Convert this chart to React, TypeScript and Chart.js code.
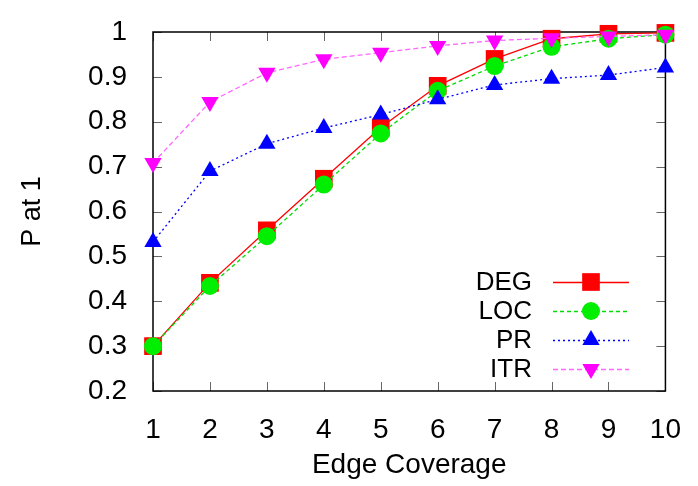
import React, { useEffect, useRef } from "react";
import { Chart, registerables } from "chart.js";

Chart.register(...registerables);

const coverage = [1, 2, 3, 4, 5, 6, 7, 8, 9, 10];
const degValues = [0.3, 0.441, 0.558, 0.673, 0.787, 0.88, 0.94, 0.985, 0.996, 0.998];
const locValues = [0.3, 0.434, 0.545, 0.66, 0.774, 0.869, 0.924, 0.967, 0.985, 0.994];
const prValues = [0.532, 0.69, 0.751, 0.786, 0.816, 0.85, 0.882, 0.896, 0.904, 0.921];
const itrValues = [0.708, 0.844, 0.909, 0.939, 0.954, 0.969, 0.981, 0.986, 0.99, 0.994];
const seriesNames = ["DEG", "LOC", "PR", "ITR"];
const xTitle = "Edge Coverage";
const yTitle = "P at 1";

const FONT = "'Liberation Sans', Arial, Helvetica, sans-serif";

type Marker = { style: string; radius: number; rotation: number };

function drawMarker(ctx: CanvasRenderingContext2D, m: Marker, x: number, y: number, color: string) {
  ctx.save();
  ctx.fillStyle = color;
  ctx.beginPath();
  if (m.style === "rect") {
    const s = Math.SQRT1_2 * m.radius;
    ctx.rect(x - s, y - s, 2 * s, 2 * s);
  } else if (m.style === "circle") {
    ctx.arc(x, y, m.radius, 0, Math.PI * 2);
  } else {
    const rad = (m.rotation * Math.PI) / 180;
    for (let i = 0; i < 3; i++) {
      const a = rad + (i * 2 * Math.PI) / 3;
      const px = x + Math.sin(a) * m.radius;
      const py = y - Math.cos(a) * m.radius;
      if (i === 0) ctx.moveTo(px, py);
      else ctx.lineTo(px, py);
    }
    ctx.closePath();
  }
  ctx.fill();
  ctx.restore();
}

const framePlugin = {
  id: "gnuFrame",
  beforeDatasetsDraw(chart: any) {
    const { ctx, chartArea } = chart;
    const { left, right, top, bottom } = chartArea;
    const xs = chart.scales.x;
    const ys = chart.scales.y;
    const tl = 9;
    ctx.save();
    ctx.strokeStyle = "#666";
    ctx.lineWidth = 1;
    ctx.beginPath();
    xs.ticks.forEach((t: any) => {
      const px = Math.round(xs.getPixelForValue(t.value)) + 0.5;
      ctx.moveTo(px, bottom);
      ctx.lineTo(px, bottom - tl);
      ctx.moveTo(px, top);
      ctx.lineTo(px, top + tl);
    });
    ys.ticks.forEach((t: any) => {
      const py = Math.round(ys.getPixelForValue(t.value)) + 0.5;
      ctx.moveTo(left, py);
      ctx.lineTo(left + tl, py);
      ctx.moveTo(right, py);
      ctx.lineTo(right - tl, py);
    });
    ctx.stroke();
    ctx.strokeStyle = "#000";
    ctx.lineWidth = 1.5;
    ctx.strokeRect(left, top, right - left, bottom - top);
    ctx.restore();
  },
};

const legendPlugin = {
  id: "gnuLegend",
  afterDatasetsDraw(chart: any) {
    const { ctx } = chart;
    const textRight = 532;
    const lineStart = 553;
    const lineEnd = 629;
    const markX = 591;
    const rows = [282, 311, 340, 369];
    ctx.save();
    chart.data.datasets.forEach((ds: any, i: number) => {
      const y = rows[i];
      ctx.fillStyle = "#000";
      ctx.font = `26px ${FONT}`;
      ctx.textAlign = "right";
      ctx.textBaseline = "middle";
      ctx.fillText(ds.label, textRight, y + 1);
      ctx.strokeStyle = ds.borderColor;
      ctx.lineWidth = ds.borderWidth;
      ctx.setLineDash(ds.borderDash || []);
      ctx.beginPath();
      ctx.moveTo(lineStart, y + 0.5);
      ctx.lineTo(lineEnd, y + 0.5);
      ctx.stroke();
      ctx.setLineDash([]);
      drawMarker(
        ctx,
        { style: ds.pointStyle, radius: ds.pointRadius, rotation: ds.pointRotation || 0 },
        markX,
        y,
        ds.pointBackgroundColor
      );
    });
    ctx.restore();
  },
};

export default function App() {
  const ref = useRef<HTMLCanvasElement | null>(null);

  useEffect(() => {
    document.body.style.margin = "0";
    const canvas = ref.current;
    if (!canvas) return;
    const mk = (values: number[]) => values.map((v, i) => ({ x: coverage[i], y: v }));
    const chart = new Chart(canvas, {
      type: "line",
      data: {
        datasets: [
          {
            label: seriesNames[0],
            data: mk(degValues),
            borderColor: "#ff0000",
            backgroundColor: "#ff0000",
            pointBackgroundColor: "#ff0000",
            pointBorderColor: "#ff0000",
            borderWidth: 1.3,
            pointStyle: "rect",
            pointRadius: 12.5,
            pointBorderWidth: 0,
            order: 4,
            clip: false,
          },
          {
            label: seriesNames[1],
            data: mk(locValues),
            borderColor: "#00dd00",
            backgroundColor: "#00ee00",
            pointBackgroundColor: "#00ee00",
            pointBorderColor: "#00ee00",
            borderWidth: 1.3,
            borderDash: [4, 3],
            pointStyle: "circle",
            pointRadius: 9,
            pointBorderWidth: 0,
            order: 3,
            clip: false,
          },
          {
            label: seriesNames[2],
            data: mk(prValues),
            borderColor: "#0000ff",
            backgroundColor: "#0000ff",
            pointBackgroundColor: "#0000ff",
            pointBorderColor: "#0000ff",
            borderWidth: 1.3,
            borderDash: [2, 3],
            pointStyle: "triangle",
            pointRadius: 10,
            pointBorderWidth: 0,
            order: 2,
            clip: false,
          },
          {
            label: seriesNames[3],
            data: mk(itrValues),
            borderColor: "#ff66ff",
            backgroundColor: "#ff00ff",
            pointBackgroundColor: "#ff00ff",
            pointBorderColor: "#ff00ff",
            borderWidth: 1.3,
            borderDash: [5, 3],
            pointStyle: "triangle",
            pointRotation: 180,
            pointRadius: 10,
            pointBorderWidth: 0,
            order: 1,
            clip: false,
          },
        ] as any,
      },
      options: {
        responsive: false,
        animation: false,
        layout: { padding: { left: 0, right: 30, top: 16, bottom: 0 } },
        plugins: {
          legend: { display: false },
          tooltip: { enabled: false },
        },
        scales: {
          x: {
            type: "linear",
            min: 1,
            max: 10,
            grid: { display: false },
            border: { display: false },
            ticks: {
              stepSize: 1,
              padding: 17,
              color: "#000",
              font: { family: FONT, size: 28, lineHeight: 1 },
              callback: (v: any) => String(Number(Number(v).toFixed(1))),
            },
            title: {
              display: true,
              text: xTitle,
              color: "#000",
              font: { family: FONT, size: 28 },
              padding: { top: 0, bottom: 4 },
            },
            afterFit: (s: any) => {
              s.height = 95;
            },
          },
          y: {
            type: "linear",
            min: 0.2,
            max: 1,
            grid: { display: false },
            border: { display: false },
            ticks: {
              stepSize: 0.1,
              padding: 18,
              color: "#000",
              font: { family: FONT, size: 28, lineHeight: 1 },
              callback: (v: any) => String(Number(Number(v).toFixed(1))),
            },
            title: {
              display: true,
              text: yTitle,
              color: "#000",
              font: { family: FONT, size: 27 },
              padding: { top: 16, bottom: 0 },
            },
            afterFit: (s: any) => {
              s.width = 153;
            },
          },
        },
      } as any,
      plugins: [framePlugin, legendPlugin],
    });
    return () => chart.destroy();
  }, []);

  return (
    <div style={{ position: "absolute", left: 0, top: 0, width: 698, height: 486 }}>
      <canvas ref={ref} width={698} height={486} style={{ width: 698, height: 486 }} />
    </div>
  );
}
